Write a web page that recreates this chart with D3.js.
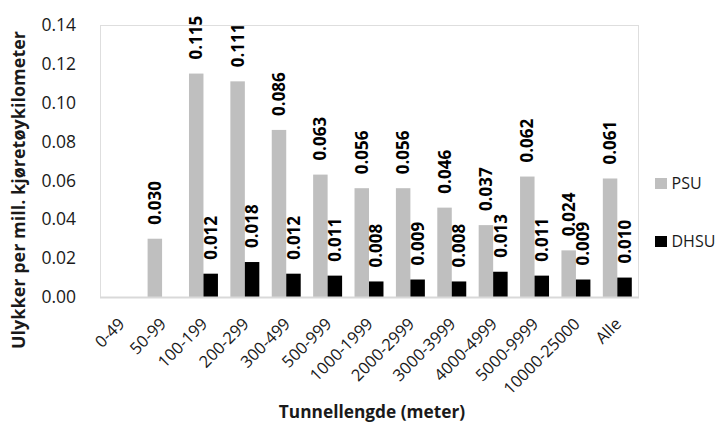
<!DOCTYPE html>
<html>
<head>
<meta charset="utf-8">
<script src="https://cdn.jsdelivr.net/npm/d3@7/dist/d3.min.js"></script>
<style>
  html, body { margin: 0; padding: 0; background: #fff; }
  svg { display: block; font-family: "Open Sans", "Liberation Sans", sans-serif; }
</style>
</head>
<body>
<svg id="chart" width="718" height="423"></svg>
<script>
// Accident rate per million vehicle-km, by tunnel length class
const categories = ["0-49", "50-99", "100-199", "200-299", "300-499", "500-999",
  "1000-1999", "2000-2999", "3000-3999", "4000-4999", "5000-9999", "10000-25000", "Alle"];
const psu  = [null, 0.030, 0.115, 0.111, 0.086, 0.063, 0.056, 0.056, 0.046, 0.037, 0.062, 0.024, 0.061];
const dhsu = [null, null, 0.012, 0.018, 0.012, 0.011, 0.008, 0.009, 0.008, 0.013, 0.011, 0.009, 0.010];
const seriesNames = ["PSU", "DHSU"];
const seriesColors = ["#bfbfbf", "#000000"];
const yTicks = [0, 0.02, 0.04, 0.06, 0.08, 0.10, 0.12, 0.14];

const svg = d3.select("#chart");
const plot = { left: 100, top: 25, right: 638, bottom: 297 };
const textColor = "#1a1a1a";

const x = d3.scaleBand().domain(categories).range([plot.left, plot.right]).paddingInner(0.3).paddingOuter(0.15);
const xs = d3.scaleBand().domain(seriesNames).range([0, x.bandwidth()]);
const y = d3.scaleLinear().domain([0, 0.14]).range([plot.bottom, plot.top]);

// plot area frame (dotted)
svg.append("rect")
  .attr("x", plot.left + 0.5).attr("y", plot.top + 0.5)
  .attr("width", plot.right - plot.left).attr("height", plot.bottom - plot.top)
  .attr("fill", "none").attr("stroke", "#bdbdbd").attr("stroke-width", 1)
  .attr("stroke-dasharray", "1,1");

const rows = categories.map((c, i) => ({ cat: c, vals: [psu[i], dhsu[i]] }));

const groups = svg.append("g").selectAll("g").data(rows).join("g")
  .attr("transform", d => `translate(${x(d.cat)},0)`);

const cells = groups.selectAll("g.cell")
  .data(d => d.vals.map((v, k) => ({ v, k })).filter(e => e.v !== null))
  .join("g").attr("class", "cell");

cells.append("rect")
  .attr("x", e => xs(seriesNames[e.k]))
  .attr("width", xs.bandwidth())
  .attr("y", e => y(e.v))
  .attr("height", e => y(0) - y(e.v))
  .attr("fill", e => seriesColors[e.k]);

// value labels, rotated, above each bar
cells.append("text")
  .attr("transform", e => `translate(${xs(seriesNames[e.k]) + xs.bandwidth() / 2},${y(e.v) - 14}) rotate(-90)`)
  .attr("text-anchor", "start")
  .attr("dy", "0.36em")
  .attr("font-weight", "bold")
  .attr("font-size", 17)
  .attr("fill", "#000")
  .text(e => e.v.toFixed(3));

// x axis baseline
svg.append("line")
  .attr("x1", plot.left).attr("x2", plot.right + 1)
  .attr("y1", plot.bottom + 0.5).attr("y2", plot.bottom + 0.5)
  .attr("stroke", "#d9d9d9").attr("stroke-width", 2);

// y axis tick labels
const yAxis = svg.append("g")
  .attr("transform", `translate(76,0)`)
  .call(d3.axisLeft(y).tickValues(yTicks).tickFormat(d3.format(".2f")).tickSize(0).tickPadding(0));
yAxis.select(".domain").remove();
yAxis.selectAll("text").attr("font-size", 17.5).attr("fill", textColor)
  .attr("font-family", "Open Sans, Liberation Sans, sans-serif");

// x axis tick labels, rotated 45°
const xAxis = svg.append("g")
  .attr("transform", `translate(0,${plot.bottom})`)
  .call(d3.axisBottom(x).tickSize(0).tickPadding(0));
xAxis.select(".domain").remove();
xAxis.selectAll("text")
  .attr("font-size", 16.5).attr("fill", textColor)
  .attr("font-family", "Open Sans, Liberation Sans, sans-serif")
  .attr("text-anchor", "end")
  .attr("dy", null).attr("y", 0)
  .attr("transform", "translate(5,28) rotate(-45)");

// axis titles
svg.append("text")
  .attr("transform", `translate(25,190) rotate(-90)`)
  .attr("text-anchor", "middle")
  .attr("font-weight", "bold").attr("font-size", 18).attr("fill", textColor)
  .text("Ulykker per mill. kjøretøykilometer");

svg.append("text")
  .attr("x", 372).attr("y", 418)
  .attr("text-anchor", "middle")
  .attr("font-weight", "bold").attr("font-size", 17.3).attr("fill", textColor)
  .text("Tunnellengde (meter)");

// legend
const legend = svg.append("g").selectAll("g").data(seriesNames).join("g")
  .attr("transform", (d, i) => `translate(655,${178 + i * 58})`);
legend.append("rect").attr("width", 12).attr("height", 11).attr("fill", (d, i) => seriesColors[i]);
legend.append("text").attr("x", 16.5).attr("y", 11.3)
  .attr("font-size", 16).attr("fill", textColor).text(d => d);
</script>
</body>
</html>
